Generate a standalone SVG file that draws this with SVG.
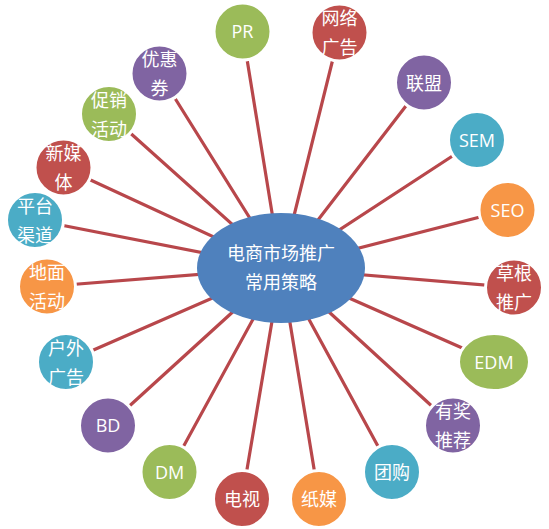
<svg xmlns="http://www.w3.org/2000/svg" width="549" height="529" viewBox="0 0 549 529">
<style>
.bg{fill:#ffffff}
.ln{stroke:#b8474b;stroke-width:3.2;stroke-linecap:round;fill:none}
.nd{stroke:#ffffff;stroke-width:3}
.g{fill:#9bbb59}.r{fill:#c0504d}.p{fill:#8064a2}.t{fill:#4bacc6}.o{fill:#f79646}.b{fill:#4f81bd}
.cj{font-family:"Noto Sans CJK SC","Noto Sans",sans-serif;font-size:18px;fill:#ffffff;text-anchor:middle}
.la{font-family:"Open Sans","Noto Sans",sans-serif;font-size:18px;fill:#ffffff;text-anchor:middle}
</style>
<rect class="bg" x="0" y="0" width="549" height="529"/>
<g id="connectors">
<line class="ln" x1="242.5" y1="31.5" x2="281" y2="268"/>
<line class="ln" x1="339.5" y1="32.5" x2="281" y2="268"/>
<line class="ln" x1="159.5" y1="73.5" x2="281" y2="268"/>
<line class="ln" x1="424" y1="82.5" x2="281" y2="268"/>
<line class="ln" x1="109" y1="114" x2="281" y2="268"/>
<line class="ln" x1="477" y1="140" x2="281" y2="268"/>
<line class="ln" x1="63.5" y1="167.5" x2="281" y2="268"/>
<line class="ln" x1="507.5" y1="210" x2="281" y2="268"/>
<line class="ln" x1="35" y1="220" x2="281" y2="268"/>
<line class="ln" x1="514" y1="287.5" x2="281" y2="268"/>
<line class="ln" x1="47" y1="286.5" x2="281" y2="268"/>
<line class="ln" x1="494" y1="362" x2="281" y2="268"/>
<line class="ln" x1="66" y1="362" x2="281" y2="268"/>
<line class="ln" x1="453" y1="425.5" x2="281" y2="268"/>
<line class="ln" x1="108" y1="425.5" x2="281" y2="268"/>
<line class="ln" x1="392" y1="472" x2="281" y2="268"/>
<line class="ln" x1="169.5" y1="472" x2="281" y2="268"/>
<line class="ln" x1="319" y1="499" x2="281" y2="268"/>
<line class="ln" x1="242" y1="499" x2="281" y2="268"/>
</g>
<g id="center">
<ellipse class="b" cx="281" cy="268" rx="84" ry="55"/>
<text class="cj" x="281" y="260">电商市场推广</text>
<text class="cj" x="281" y="289">常用策略</text>
</g>
<g id="n-pr"><circle class="nd g" cx="242.5" cy="31.5" r="28.5"/><text class="la" x="242.5" y="38">PR</text></g>
<g id="n-wlgg"><circle class="nd r" cx="339.5" cy="32.5" r="28.5"/><text class="cj" x="339.5" y="25">网络</text><text class="cj" x="339.5" y="54">广告</text></g>
<g id="n-yhq"><circle class="nd p" cx="159.5" cy="73.5" r="28.5"/><text class="cj" x="159.5" y="66">优惠</text><text class="cj" x="159.5" y="95">券</text></g>
<g id="n-lm"><circle class="nd p" cx="424" cy="82.5" r="28.5"/><text class="cj" x="424" y="89.5">联盟</text></g>
<g id="n-cxhd"><circle class="nd g" cx="109" cy="114" r="28.5"/><text class="cj" x="109" y="106.5">促销</text><text class="cj" x="109" y="135.5">活动</text></g>
<g id="n-sem"><circle class="nd t" cx="477" cy="140" r="28.5"/><text class="la" x="477" y="146.5">SEM</text></g>
<g id="n-xmt"><circle class="nd r" cx="63.5" cy="167.5" r="28.5"/><text class="cj" x="63.5" y="160">新媒</text><text class="cj" x="63.5" y="189">体</text></g>
<g id="n-seo"><circle class="nd o" cx="507.5" cy="210" r="28.5"/><text class="la" x="507.5" y="216.5">SEO</text></g>
<g id="n-ptqd"><circle class="nd t" cx="35" cy="220" r="28.5"/><text class="cj" x="35" y="212.5">平台</text><text class="cj" x="35" y="241.5">渠道</text></g>
<g id="n-cgtg"><circle class="nd r" cx="514" cy="287.5" r="28.5"/><text class="cj" x="514" y="280">草根</text><text class="cj" x="514" y="309">推广</text></g>
<g id="n-dmhd"><circle class="nd o" cx="47" cy="286.5" r="28.5"/><text class="cj" x="47" y="279">地面</text><text class="cj" x="47" y="308">活动</text></g>
<g id="n-edm"><ellipse class="nd g" cx="494" cy="362" rx="35.5" ry="28.5"/><text class="la" x="494" y="368.5">EDM</text></g>
<g id="n-hwgg"><circle class="nd t" cx="66" cy="362" r="28.5"/><text class="cj" x="66" y="354.5">户外</text><text class="cj" x="66" y="383.5">广告</text></g>
<g id="n-yjtj"><circle class="nd p" cx="453" cy="425.5" r="28.5"/><text class="cj" x="453" y="418">有奖</text><text class="cj" x="453" y="447">推荐</text></g>
<g id="n-bd"><circle class="nd p" cx="108" cy="425.5" r="28.5"/><text class="la" x="108" y="432">BD</text></g>
<g id="n-tg"><circle class="nd t" cx="392" cy="472" r="28.5"/><text class="cj" x="392" y="479">团购</text></g>
<g id="n-dm"><circle class="nd g" cx="169.5" cy="472" r="28.5"/><text class="la" x="169.5" y="478.5">DM</text></g>
<g id="n-zm"><circle class="nd o" cx="319" cy="499" r="28.5"/><text class="cj" x="319" y="506">纸媒</text></g>
<g id="n-ds"><circle class="nd r" cx="242" cy="499" r="28.5"/><text class="cj" x="242" y="506">电视</text></g>
</svg>
